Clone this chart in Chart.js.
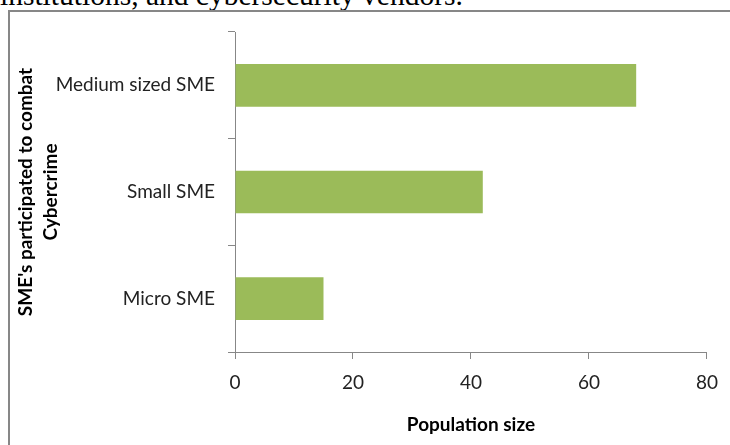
<!DOCTYPE html>
<html>
<head>
<meta charset="utf-8">
<script src="https://cdn.jsdelivr.net/npm/chart.js@4.4.1/dist/chart.umd.min.js"></script>
<style>
  html, body { margin: 0; padding: 0; background: #ffffff; overflow: hidden; }
  #wrap { position: relative; width: 730px; height: 445px; overflow: hidden; background: #fff; }
  #caption { position: absolute; left: 0px; top: -20px; font-family: "Liberation Serif", "Times New Roman", serif;
             font-size: 29.5px; line-height: 30px; color: #000; white-space: nowrap; }
  #frame { position: absolute; left: 8px; top: 10px; width: 900px; height: 600px; border: 2px solid #878787; box-sizing: border-box; }
  #c { position: absolute; left: 0; top: 0; }
</style>
</head>
<body>
<div id="wrap">
  <div id="caption">institutions, and cybersecurity vendors.</div>
  <div id="frame"></div>
  <canvas id="c" width="730" height="445"></canvas>
</div>
<script>
const categories = ["Medium sized SME", "Small SME", "Micro SME"];
const populationSize = [68, 42, 15];
const xTickValues = [0, 20, 40, 60, 80];
const yTitleLines = ["SME's participated to combat", "Cybercrime"];
const xTitle = "Population size";

const FONT = "Lato, 'Open Sans', 'Liberation Sans', sans-serif";
const AXIS = "#878787";

new Chart(document.getElementById("c"), {
  type: "bar",
  data: {
    labels: categories,
    datasets: [{
      data: populationSize,
      backgroundColor: "#9BBB59",
      borderWidth: 0,
      categoryPercentage: 1.0,
      barPercentage: 0.4
    }]
  },
  options: {
    indexAxis: "y",
    responsive: false,
    animation: false,
    devicePixelRatio: 1,
    layout: { padding: { left: 14, top: 32, right: 22, bottom: 9 } },
    plugins: { legend: { display: false }, tooltip: { enabled: false } },
    scales: {
      x: {
        min: 0, max: 80,
        afterBuildTicks: (s) => { s.ticks = xTickValues.map(v => ({ value: v })); },
        afterFit: (s) => { s.height = 84; },
        grid: { display: true, drawOnChartArea: false, drawTicks: true, tickLength: 7, color: AXIS, lineWidth: 1 },
        border: { display: true, color: AXIS, width: 1 },
        ticks: { color: "#222", font: { family: FONT, size: 19 }, padding: 12, maxRotation: 0 },
        title: { display: true, text: xTitle, color: "#000", font: { family: FONT, size: 19, weight: "bold" }, padding: { top: 0, bottom: 0 } }
      },
      y: {
        afterFit: (s) => { s.width = 221; },
        grid: { display: true, drawOnChartArea: false, drawTicks: true, tickLength: 7, color: AXIS, lineWidth: 1, offset: true },
        border: { display: true, color: AXIS, width: 1 },
        ticks: { color: "#222", font: { family: FONT, size: 19 }, padding: 13 },
        title: { display: true, text: yTitleLines, color: "#000", font: { family: FONT, size: 19, weight: "bold", lineHeight: 1.3 }, padding: { top: 0, bottom: 0 } }
      }
    }
  }
});
</script>
</body>
</html>
